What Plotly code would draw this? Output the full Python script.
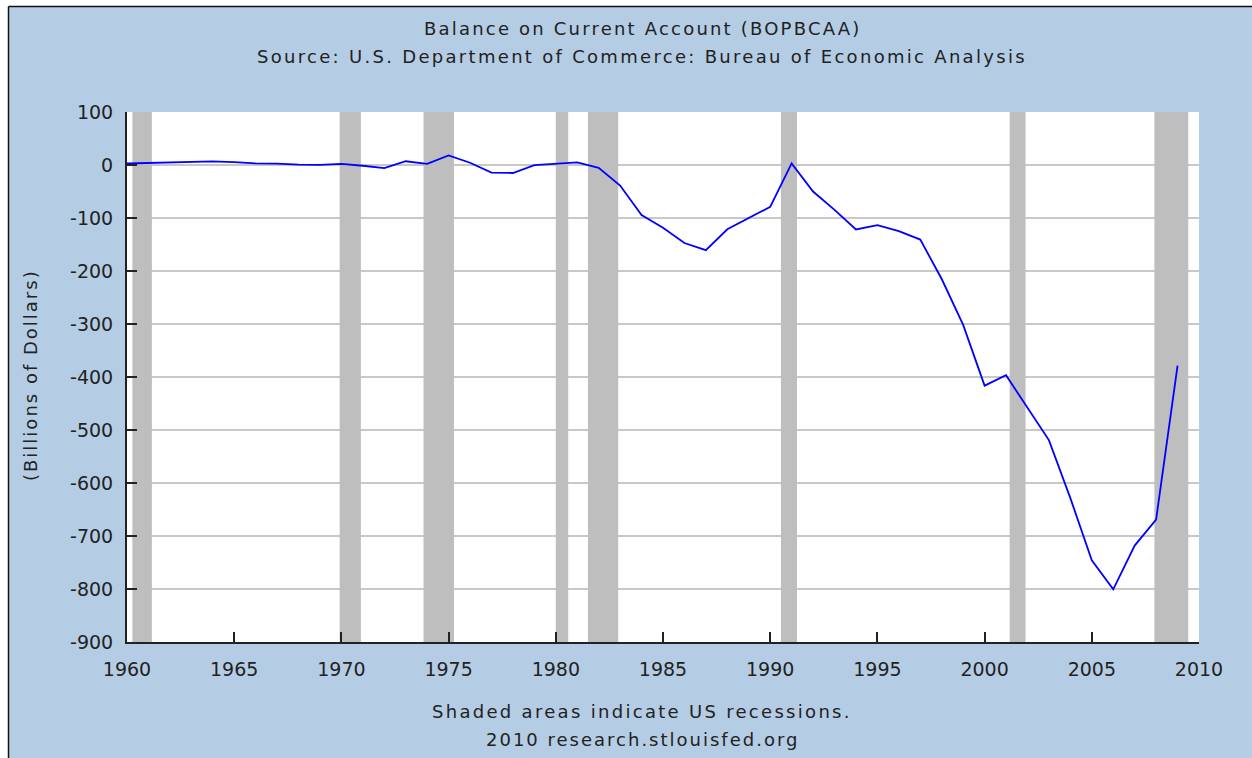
import plotly.graph_objects as go

years = list(range(1960, 2010))
balance = [2.8, 3.8, 3.4, 4.4, 6.8, 5.4, 3.0, 2.6, 0.6, 0.4,
           2.3, -1.4, -5.8, 7.1, 2.0, 18.1, 4.3, -14.3, -15.1, -0.3,
           2.3, 5.0, -5.5, -38.7, -94.3, -118.2, -147.2, -160.7, -121.2, -99.5,
           -79.0, 2.9, -50.1, -84.8, -121.6, -113.6, -124.8, -140.7, -215.1, -301.6,
           -416.3, -396.7, -457.8, -519.1, -628.5, -745.8, -800.6, -718.1, -668.9, -378.4]

rec_start = [1960.25, 1969.92, 1973.83, 1980.0, 1981.5, 1990.5, 2001.17, 2007.92]
rec_end = [1961.16, 1970.91, 1975.25, 1980.58, 1982.91, 1991.25, 2001.91, 2009.5]

x_ticks = list(range(1960, 2011, 5))
y_ticks = list(range(-900, 101, 100))

BG = "#b4cde5"
FONT = "DejaVu Sans"
TXT = "#222222"

def spaced(t, sp):
    return '<span style="letter-spacing:%spx">%s</span>' % (sp, t)

fig = go.Figure()
fig.add_trace(go.Scatter(x=years, y=balance, mode="lines",
                         line=dict(color="#0000ff", width=1.8),
                         hoverinfo="x+y", showlegend=False))

shapes = []
for s, e in zip(rec_start, rec_end):
    shapes.append(dict(type="rect", xref="x", yref="y", x0=s, x1=e, y0=-900, y1=100,
                       fillcolor="#bebebe", line=dict(width=0), layer="between"))

# cropped outer frame (white strip + dark border at top-left)
W, H = 1252, 758
L, R, T, B = 127, 53, 112, 116
pw, ph = W - L - R, H - T - B
def px(xp):
    return (xp - L) / pw
def py(yp):
    return 1 - (yp - T) / ph
shapes.append(dict(type="rect", xref="paper", yref="paper", x0=px(-5), x1=px(8), y0=py(-5), y1=py(H + 5),
                   fillcolor="white", line=dict(width=0), layer="above"))
shapes.append(dict(type="rect", xref="paper", yref="paper", x0=px(-5), x1=px(W + 5), y0=py(-5), y1=py(6),
                   fillcolor="white", line=dict(width=0), layer="above"))
shapes.append(dict(type="line", xref="paper", yref="paper", x0=px(8.5), x1=px(8.5), y0=py(6.5), y1=py(H + 5),
                   line=dict(color="#111111", width=1.5), layer="above"))
shapes.append(dict(type="line", xref="paper", yref="paper", x0=px(8.5), x1=px(W + 5), y0=py(6.5), y1=py(6.5),
                   line=dict(color="#111111", width=1.5), layer="above"))

cx = px(642)
tf = dict(family=FONT, size=18, color=TXT)
annotations = [
    dict(text=spaced("Balance on Current Account (BOPBCAA)", 2.2), x=cx, y=py(28), xref="paper", yref="paper",
         showarrow=False, xanchor="center", yanchor="middle", font=tf),
    dict(text=spaced("Source: U.S. Department of Commerce: Bureau of Economic Analysis", 2.3), x=cx, y=py(57),
         xref="paper", yref="paper", showarrow=False, xanchor="center", yanchor="middle", font=tf),
    dict(text=spaced("Shaded areas indicate US recessions.", 2.3), x=cx, y=py(711), xref="paper", yref="paper",
         showarrow=False, xanchor="center", yanchor="middle", font=tf),
    dict(text=spaced("2010 research.stlouisfed.org", 2.0), x=cx, y=py(739), xref="paper", yref="paper",
         showarrow=False, xanchor="center", yanchor="middle", font=tf),
    dict(text=spaced("(Billions of Dollars)", 2.0), x=px(30), y=py(375), xref="paper", yref="paper", textangle=-90,
         showarrow=False, xanchor="center", yanchor="middle", font=tf),
]

fig.update_layout(
    width=W, height=H,
    margin=dict(l=L, r=R, t=T, b=B),
    paper_bgcolor=BG, plot_bgcolor="white",
    shapes=shapes, annotations=annotations,
    font=dict(family=FONT, size=18, color=TXT),
    showlegend=False,
)
fig.update_xaxes(range=[1960, 2010], tickvals=x_ticks, ticktext=[str(v) for v in x_ticks],
                 showgrid=False, zeroline=False, showline=True, linecolor="#222222", linewidth=2,
                 ticks="inside", ticklen=10, tickwidth=2, tickcolor="#222222",
                 ticklabelstandoff=9, tickfont=dict(family=FONT, size=19, color=TXT))
fig.update_yaxes(range=[-900, 100], tickvals=y_ticks, ticktext=[str(v) for v in y_ticks],
                 showgrid=True, gridcolor="#c8c8c8", gridwidth=2, zeroline=False,
                 showline=True, linecolor="#222222", linewidth=2,
                 ticks="inside", ticklen=10, tickwidth=2, tickcolor="#222222",
                 ticklabelstandoff=8, tickfont=dict(family=FONT, size=19, color=TXT))

fig.write_html("out.html", config={"displayModeBar": False},
               post_script="document.body.style.margin='0';document.body.style.padding='0';")
